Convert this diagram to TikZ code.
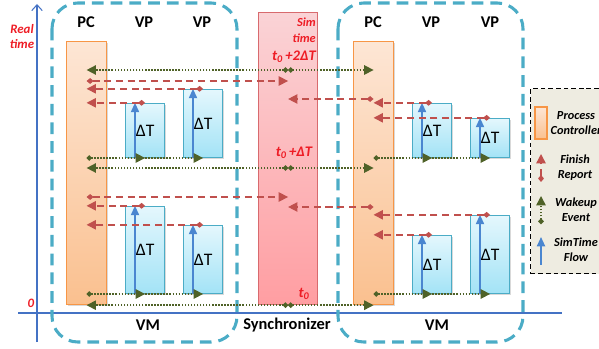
\documentclass[tikz,border=0pt]{standalone}
\usepackage{fontspec}
\setmainfont{Carlito}
\usetikzlibrary{positioning,arrows.meta,shadows}
\definecolor{VMTeal}{HTML}{4BACC6}
\definecolor{PCBorder}{HTML}{F79646}
\definecolor{PCTop}{HTML}{FDE6D5}
\definecolor{PCBottom}{HTML}{FAC08F}
\definecolor{SyncBorder}{HTML}{D86A6E}
\definecolor{SyncTop}{HTML}{FAD3D6}
\definecolor{SyncBottom}{HTML}{FF9EA2}
\definecolor{VPTop}{HTML}{E4F7FD}
\definecolor{VPBottom}{HTML}{A3E3F6}
\definecolor{FinRed}{HTML}{C0504D}
\definecolor{WakeGreen}{HTML}{4F6228}
\definecolor{FlowBlue}{HTML}{4A86D0}
\definecolor{AxisBlue}{HTML}{4472C4}
\definecolor{LblRed}{HTML}{EE1C25}
\definecolor{LegFill}{HTML}{EEECE1}
\tikzset{
  tlVM/.style={
    draw=VMTeal,
    line width=2.6pt,
    dash pattern=on 10pt off 6pt,
    rounded corners=22pt
  },
  tlAxis/.style={
    draw=AxisBlue,
    line width=0.9pt
  },
  tlHead/.style={
    font=\fontsize{14pt}{16pt}\selectfont\bfseries,
    inner sep=0pt
  },
  tlRed/.style={
    font=\fontsize{11pt}{12.8pt}\selectfont\bfseries\itshape,
    text=LblRed,
    inner sep=0pt
  },
  tlPC/.style={
    draw=PCBorder,
    line width=1pt,
    top color=PCTop,
    bottom color=PCBottom,
    minimum width=1.2cm,
    inner sep=0pt,
    drop shadow={shadow xshift=1pt, shadow yshift=-1pt, opacity=0.3}
  },
  tlSync/.style={
    draw=SyncBorder,
    line width=1pt,
    top color=SyncTop,
    bottom color=SyncBottom,
    minimum width=1.77cm,
    minimum height=8.76cm,
    inner sep=0pt
  },
  tlVP/.style={
    draw=VMTeal,
    line width=1pt,
    top color=VPTop,
    bottom color=VPBottom,
    minimum width=1.17cm,
    inner sep=0pt,
    anchor=south west,
    font=\fontsize{15pt}{17pt}\selectfont,
    drop shadow={shadow xshift=1pt, shadow yshift=-1pt, opacity=0.3}
  },
  tlFinish/.style={
    draw=FinRed,
    line width=1.2pt,
    dash pattern=on 6pt off 4pt,
    {Diamond[length=6pt,width=5pt]}-{Triangle[length=8pt,width=8pt]}
  },
  tlWake/.style={
    draw=WakeGreen,
    line width=1.3pt,
    dash pattern=on 1.3pt off 1.3pt,
    {Circle[length=4.5pt]}-{Triangle[length=8pt,width=8pt]}
  },
  tlWakeOn/.style={
    tlWake,
    -{Triangle[length=8pt,width=8pt]}
  },
  tlFlow/.style={
    draw=FlowBlue,
    line width=1.2pt,
    -{Triangle[length=8pt,width=7pt]}
  },
  tlLegend/.style={
    draw=black,
    line width=1.2pt,
    dash pattern=on 4pt off 2.5pt,
    fill=LegFill,
    minimum width=2.7cm,
    minimum height=5.55cm,
    inner sep=0pt
  },
  tlLegText/.style={
    font=\fontsize{10.5pt}{12.7pt}\selectfont\bfseries\itshape,
    align=center,
    inner sep=0pt
  }
}
\begin{document}
\begin{tikzpicture}[x=0.03cm, y=-0.03cm]
  \clip (0,0) rectangle (599,349);

  % time axis
  \coordinate (axTop) at (37,4);
  \coordinate (axBot) at (37,342);
  \coordinate (axL) at (18,313);
  \coordinate (axR) at (562,313);
  \draw[tlAxis, -{Straight Barb[length=5pt,width=9pt]}] (axBot) -- (axTop);
  \draw[tlAxis] (axL) -- (axR);
  \node[tlRed, align=center] (lblReal) at (22,37) {Real\\time};
  \node[tlRed] (lblZero) at (31,303) {0};

  % VM frames
  \draw[tlVM] (52,3) rectangle (237,342);
  \draw[tlVM] (338,3) rectangle (523,342);

  % process controllers and synchronizer
  \node[tlPC, minimum height=7.89cm, anchor=north west] (pcL) at (66,41) {};
  \node[tlPC, minimum height=7.89cm, anchor=north west] (pcR) at (353,41) {};
  \node[tlSync, anchor=north west] (sync) at (258,12) {};

  % virtual processors
  \node[tlVP, minimum height=1.62cm] (vpLa) at (125,158) {ΔT};
  \node[tlVP, minimum height=2.04cm] (vpLb) at (183,158) {ΔT};
  \node[tlVP, minimum height=2.61cm] (vpLc) at (125,294) {ΔT};
  \node[tlVP, minimum height=2.04cm] (vpLd) at (183,294) {ΔT};
  \node[tlVP, minimum height=1.62cm] (vpRa) at (412,158) {ΔT};
  \node[tlVP, minimum height=1.17cm] (vpRb) at (470,158) {ΔT};
  \node[tlVP, minimum height=1.74cm] (vpRc) at (412,294) {ΔT};
  \node[tlVP, minimum height=2.34cm] (vpRd) at (470,294) {ΔT};

  % headers and footers
  \node[tlHead] (hPcL) at (86,22) {PC};
  \node[tlHead] (hVpLa) at (144,22) {VP};
  \node[tlHead] (hVpLb) at (202,22) {VP};
  \node[tlHead] (hPcR) at (373,22) {PC};
  \node[tlHead] (hVpRa) at (431,22) {VP};
  \node[tlHead] (hVpRb) at (490,22) {VP};
  \node[tlHead] (fVmL) at (148,325) {VM};
  \node[tlHead] (fSync) at (287,325) {Synchronizer};
  \node[tlHead] (fVmR) at (437,325) {VM};

  % sim time labels
  \node[tlRed, font=\fontsize{10.5pt}{14pt}\selectfont\bfseries\itshape, align=right, anchor=east] (lblSim) at (316,30) {Sim\\time};
  \node[tlRed, font=\fontsize{12.5pt}{14pt}\selectfont\bfseries\itshape] (lblTwo) at (294,57) {t\textsubscript{0}\,+2ΔT};
  \node[tlRed, font=\fontsize{12.5pt}{14pt}\selectfont\bfseries\itshape] (lblOne) at (294,153) {t\textsubscript{0}\,+ΔT};
  \node[tlRed, font=\fontsize{12.5pt}{14pt}\selectfont\bfseries\itshape] (lblNil) at (304,294) {t\textsubscript{0}};

  % time levels
  \coordinate (tTwo) at (0,70);
  \coordinate (tOne) at (0,168);
  \coordinate (fLa) at (0,81);
  \coordinate (fRa) at (0,99);
  \coordinate (fLb) at (0,197);
  \coordinate (fRb) at (0,207);

  % sim time flow
  \draw[tlFlow] ([xshift=0.3cm]vpLa.south west) -- ([xshift=0.3cm]vpLa.north west);
  \draw[tlFlow] ([xshift=0.3cm]vpLb.south west) -- ([xshift=0.3cm]vpLb.north west);
  \draw[tlFlow] ([xshift=0.3cm]vpLc.south west) -- ([xshift=0.3cm]vpLc.north west);
  \draw[tlFlow] ([xshift=0.3cm]vpLd.south west) -- ([xshift=0.3cm]vpLd.north west);
  \draw[tlFlow] ([xshift=0.3cm]vpRa.south west) -- ([xshift=0.3cm]vpRa.north west);
  \draw[tlFlow] ([xshift=0.3cm]vpRb.south west) -- ([xshift=0.3cm]vpRb.north west);
  \draw[tlFlow] ([xshift=0.3cm]vpRc.south west) -- ([xshift=0.3cm]vpRc.north west);
  \draw[tlFlow] ([xshift=0.3cm]vpRd.south west) -- ([xshift=0.3cm]vpRd.north west);

  % wakeup events
  \draw[tlWake] (sync |- tTwo) -- (pcL |- tTwo);
  \draw[tlWake] (sync |- tTwo) -- (pcR |- tTwo);
  \draw[tlWake] (sync |- tOne) -- (pcL |- tOne);
  \draw[tlWake] (sync |- tOne) -- (pcR |- tOne);
  \draw[tlWake] (sync.south) -- (sync.south -| pcL);
  \draw[tlWake] (sync.south) -- (sync.south -| pcR);
  \draw[tlWake] (vpLa.south -| pcL) -- (vpLa.south);
  \draw[tlWakeOn] (vpLa.south) -- (vpLb.south);
  \draw[tlWake] (vpLc.south -| pcL) -- (vpLc.south);
  \draw[tlWakeOn] (vpLc.south) -- (vpLd.south);
  \draw[tlWake] (vpRa.south -| pcR) -- (vpRa.south);
  \draw[tlWakeOn] (vpRa.south) -- (vpRb.south);
  \draw[tlWake] (vpRc.south -| pcR) -- (vpRc.south);
  \draw[tlWakeOn] (vpRc.south) -- (vpRd.south);

  % finish reports
  \draw[tlFinish] (pcL |- fLa) -- (sync |- fLa);
  \draw[tlFinish] (pcR |- fRa) -- (sync |- fRa);
  \draw[tlFinish] (pcL |- fLb) -- (sync |- fLb);
  \draw[tlFinish] (pcR |- fRb) -- (sync |- fRb);
  \draw[tlFinish] (vpLa.north) -- (vpLa.north -| pcL);
  \draw[tlFinish] (vpLb.north) -- (vpLb.north -| pcL);
  \draw[tlFinish] (vpLc.north) -- (vpLc.north -| pcL);
  \draw[tlFinish] (vpLd.north) -- (vpLd.north -| pcL);
  \draw[tlFinish] (vpRa.north) -- (vpRa.north -| pcR);
  \draw[tlFinish] (vpRb.north) -- (vpRb.north -| pcR);
  \draw[tlFinish] (vpRc.north) -- (vpRc.north -| pcR);
  \draw[tlFinish] (vpRd.north) -- (vpRd.north -| pcR);

  % legend
  \node[tlLegend, anchor=north west] (legend) at (530,88) {};
  \node[tlPC, minimum width=0.36cm, minimum height=0.96cm] (legPC) at (541,123) {};
  \node[tlLegText] (legPCText) at (576,123) {Process\\Controller};
  \coordinate (legFa) at (541,182);
  \coordinate (legFb) at (541,154);
  \draw[tlFinish] (legFa) -- (legFb);
  \node[tlLegText] (legFinText) at (575,168) {Finish\\Report};
  \coordinate (legWa) at (541,224);
  \coordinate (legWb) at (541,196);
  \draw[tlWake] (legWa) -- (legWb);
  \node[tlLegText] (legWakeText) at (576,210) {Wakeup\\Event};
  \coordinate (legSa) at (541,265);
  \coordinate (legSb) at (541,237);
  \draw[tlFlow] (legSa) -- (legSb);
  \node[tlLegText] (legFlowText) at (576,250) {SimTime\\Flow};
\end{tikzpicture}
\end{document}
